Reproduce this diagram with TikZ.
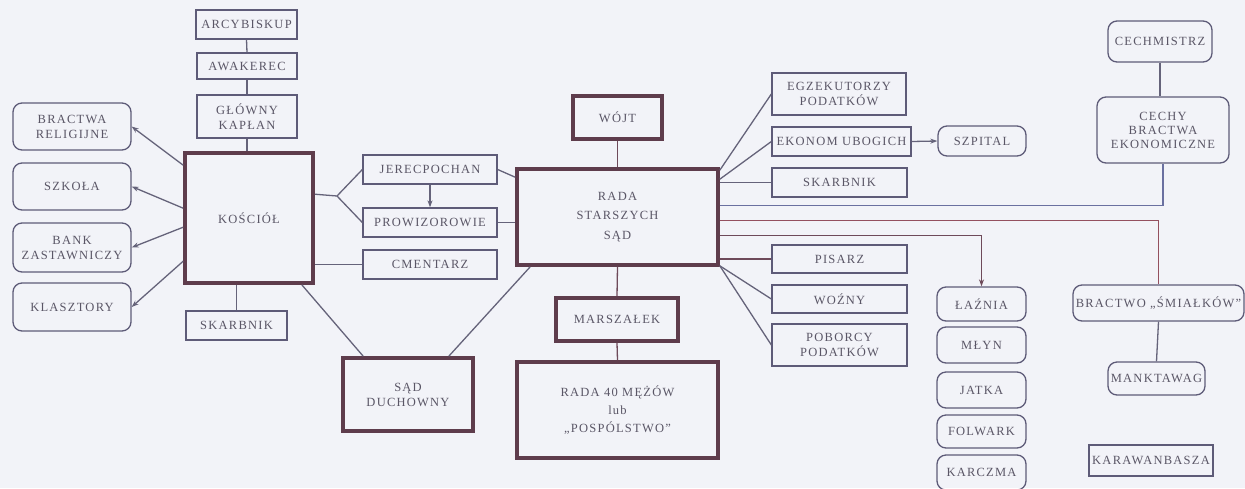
\documentclass[tikz,border=0pt]{standalone}
\usepackage{fontspec}
\setmainfont[LetterSpace=10]{Liberation Serif}
\usetikzlibrary{arrows.meta,calc}
\definecolor{bg}{HTML}{F2F3F8}
\definecolor{thincol}{HTML}{5E5B78}
\definecolor{thickcol}{HTML}{5E3C4C}
\definecolor{linecol}{HTML}{65637A}
\definecolor{txtcol}{HTML}{5A5666}
\definecolor{bluecol}{HTML}{6A70A0}
\definecolor{redcol}{HTML}{94505F}
\definecolor{browncol}{HTML}{6E4A5A}
\tikzset{
  base/.style={rectangle, align=center, text=txtcol, inner sep=1pt,
    font=\fontsize{12.5}{15}\selectfont},
  thinbox/.style={base, draw=thincol, line width=1.3pt},
  rbox/.style={thinbox, rounded corners=9pt},
  thickbox/.style={base, draw=thickcol, line width=3.6pt},
  conn/.style={draw=linecol, line width=1.3pt},
  arr/.style={conn, -{Stealth[length=7pt,width=5pt]}},
}
\begin{document}
\begin{tikzpicture}[x=1pt,y=-1pt]
\fill[bg] (0,0) rectangle (1245,488);
\useasboundingbox (0,0) rectangle (1245,488);

% church column
\node[thinbox, minimum width=101, minimum height=29] (arcy) at (246.5,24.5) {ARCYBISKUP};
\node[thinbox, minimum width=100, minimum height=26] (awak) at (247,66) {AWAKEREC};
\node[thinbox, minimum width=100, minimum height=43] (glow) at (247,116.5) {GŁÓWNY\\KAPŁAN};
\node[thickbox, minimum width=128, minimum height=130] (kosc) at (249,218) {KOŚCIÓŁ};
\node[thinbox, minimum width=101, minimum height=29] (skarbA) at (236.5,325.5) {SKARBNIK};

% left rounded boxes
\node[rbox, minimum width=118, minimum height=47] (brel) at (72,126.5) {BRACTWA\\RELIGIJNE};
\node[rbox, minimum width=118, minimum height=47] (szk) at (72,186.5) {SZKOŁA};
\node[rbox, minimum width=118, minimum height=49] (bank) at (72,247.5) {BANK\\ZASTAWNICZY};
\node[rbox, minimum width=118, minimum height=48] (klas) at (72,307) {KLASZTORY};

% middle small boxes
\node[thinbox, minimum width=134, minimum height=29] (jer) at (430,169.5) {JERECPOCHAN};
\node[thinbox, minimum width=134, minimum height=29] (prow) at (430,222.5) {PROWIZOROWIE};
\node[thinbox, minimum width=134, minimum height=29] (cme) at (430,264.5) {CMENTARZ};
\node[thickbox, minimum width=130, minimum height=73] (sadd) at (408,394.5) {SĄD\\DUCHOWNY};

% council column
\node[thickbox, minimum width=89, minimum height=43] (wojt) at (617.5,117.5) {WÓJT};
\node[thickbox, minimum width=201, minimum height=96, font=\fontsize{12.5}{19.5}\selectfont] (rada) at (617.5,217) {RADA\\STARSZYCH\\SĄD};
\node[thickbox, minimum width=122, minimum height=43] (mars) at (617,319.5) {MARSZAŁEK};
\node[thickbox, minimum width=201, minimum height=96, font=\fontsize{12.5}{18}\selectfont] (r40) at (617.5,410) {RADA 40 MĘŻÓW\\lub\\„POSPÓLSTWO”};

% right officials
\node[thinbox, minimum width=134, minimum height=42] (egz) at (839,94) {EGZEKUTORZY\\PODATKÓW};
\node[thinbox, minimum width=139, minimum height=29, inner xsep=0pt] (ekon) at (841.5,141.5) {EKONOM UBOGICH};
\node[rbox, minimum width=88, minimum height=30] (szp) at (982,141) {SZPITAL};
\node[thinbox, minimum width=135, minimum height=29] (skarbB) at (839.5,182.5) {SKARBNIK};
\node[thinbox, minimum width=135, minimum height=28] (pis) at (839.5,259) {PISARZ};
\node[thinbox, minimum width=135, minimum height=28] (woz) at (839.5,299) {WOŹNY};
\node[thinbox, minimum width=135, minimum height=42] (pob) at (839.5,345) {POBORCY\\PODATKÓW};

% enterprises column
\node[rbox, minimum width=89, minimum height=34] (laz) at (981.5,304) {ŁAŹNIA};
\node[rbox, minimum width=89, minimum height=36] (mlyn) at (981.5,345) {MŁYN};
\node[rbox, minimum width=89, minimum height=36] (jat) at (981.5,390) {JATKA};
\node[rbox, minimum width=89, minimum height=33] (folw) at (981.5,431.5) {FOLWARK};
\node[rbox, minimum width=89, minimum height=35] (karcz) at (981.5,472.5) {KARCZMA};

% guilds
\node[rbox, minimum width=104, minimum height=41] (cechm) at (1160,41.5) {CECHMISTRZ};
\node[rbox, minimum width=132, minimum height=66, font=\fontsize{12.5}{14}\selectfont] (cechy) at (1163,130) {CECHY\\BRACTWA\\EKONOMICZNE};
\node[rbox, minimum width=171, minimum height=36, inner xsep=0pt] (bsm) at (1158.5,303) {BRACTWO „ŚMIAŁKÓW”};
\node[rbox, minimum width=97, minimum height=33] (mank) at (1156.5,378.5) {MANKTAWAG};
\node[thinbox, minimum width=124, minimum height=31] (kara) at (1151,460.5) {KARAWANBASZA};

% ---- connectors ----
\draw[conn] (arcy.south) -- (awak.north);
\draw[conn] (awak.south) -- (glow.north);
\draw[conn] (glow.south) -- (glow.south |- kosc.north);
\draw[conn] (skarbA.north) -- (skarbA.north |- kosc.south);

\draw[arr] ([yshift=-14pt]kosc.north west) -- (brel.east);
\draw[arr] ([yshift=-57pt]kosc.north west) -- (szk.east);
\draw[arr] ([yshift=-76pt]kosc.north west) -- (bank.east);
\draw[arr] ([yshift=-110pt]kosc.north west) -- (klas.east);

\coordinate (fork) at (337,196);
\draw[conn] ([yshift=-43pt]kosc.north east) -- (fork);
\draw[conn] (fork) -- (jer.west);
\draw[conn] (fork) -- (prow.west);
\draw[conn] (kosc.east |- cme.west) -- (cme.west);
\draw[arr] (jer.south) -- (prow.north);
\draw[conn] (jer.east) -- ([yshift=-10pt]rada.north west);
\draw[conn] (prow.east) -- (rada.west |- prow.east);

\draw[conn] ([xshift=-13pt]kosc.south east) -- ([xshift=22pt]sadd.north west);
\draw[conn] ([xshift=15pt]rada.south west) -- ([xshift=-26pt]sadd.north east);

\draw[conn, draw=browncol] (wojt.south) -- (rada.north);
\draw[conn, draw=browncol] (rada.south) -- (mars.north);
\draw[conn, draw=browncol] (mars.south) -- (r40.north);

\draw[conn] ([yshift=-3pt]rada.north east) -- (egz.west);
\draw[conn] ([yshift=-12pt]rada.north east) -- (ekon.west);
\draw[arr] (ekon.east) -- (szp.west);
\draw[conn] (rada.east |- skarbB.west) -- (skarbB.west);
\draw[conn, draw=bluecol] ([yshift=-38pt]rada.north east) -| (cechy.south);
\draw[conn] (cechm.south) -- (cechm.south |- cechy.north);
\draw[conn, draw=redcol] ([yshift=-53pt]rada.north east) -| (bsm.north);
\draw[conn] (bsm.south) -- (mank.north);
\draw[arr, draw=browncol] ([yshift=-68pt]rada.north east) -| (laz.north);
\draw[conn, draw=browncol] (rada.east |- pis.west) -- (pis.west);
\draw[conn] ([yshift=1pt]rada.south east) -- (woz.west);
\draw[conn] ([yshift=1pt]rada.south east) -- (pob.west);
\end{tikzpicture}
\end{document}
